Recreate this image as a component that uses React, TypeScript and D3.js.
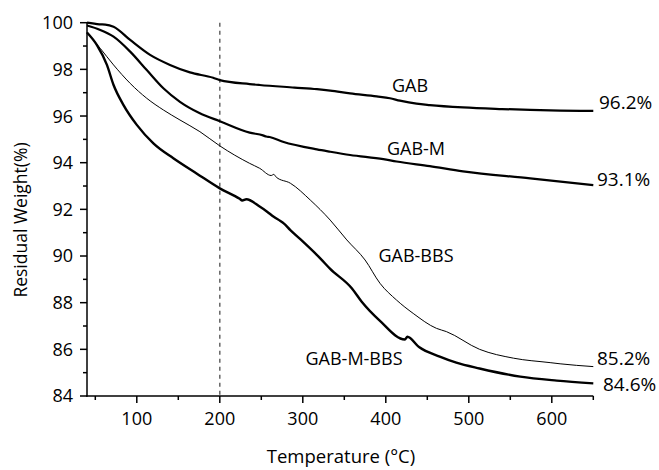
import React from "react";
import * as d3 from "d3";

const gabT = [40, 55, 62, 72, 92, 116, 140, 164, 192, 200, 236, 248, 290, 317, 333, 357, 389, 405, 417, 437, 453, 493, 540, 574, 610, 650];
const gabW = [100, 99.93, 99.92, 99.83, 99.26, 98.62, 98.19, 97.87, 97.64, 97.54, 97.37, 97.33, 97.22, 97.15, 97.09, 96.97, 96.84, 96.76, 96.66, 96.53, 96.47, 96.37, 96.3, 96.26, 96.23, 96.22];

const gabMT = [40, 56, 72, 92, 112, 132, 152, 176, 200, 236, 252, 256, 260, 276, 317, 333, 357, 397, 413, 453, 493, 574, 650];
const gabMW = [99.88, 99.69, 99.4, 98.76, 97.97, 97.19, 96.61, 96.12, 95.78, 95.29, 95.17, 95.12, 95.1, 94.9, 94.57, 94.47, 94.33, 94.15, 94.05, 93.85, 93.63, 93.33, 93.04];

const gabBBST = [40, 56, 72, 92, 112, 132, 152, 176, 200, 236, 248, 262, 265, 268, 285, 309, 333, 353, 375, 393, 413, 433, 461, 473, 513, 554, 598, 610, 650];
const gabBBSW = [99.58, 98.9, 98.19, 97.4, 96.76, 96.26, 95.83, 95.33, 94.72, 93.97, 93.76, 93.45, 93.5, 93.38, 93.12, 92.4, 91.54, 90.69, 89.83, 88.83, 88.11, 87.54, 86.9, 86.76, 86.0, 85.62, 85.43, 85.38, 85.26];

const gabMBBST = [40, 52, 64, 72, 84, 100, 120, 144, 172, 200, 224, 227, 232, 248, 257, 265, 273, 277, 285, 297, 321, 333, 359, 371, 393, 423, 426, 440, 465, 485, 513, 562, 606, 650];
const gabMBBSW = [99.58, 99.04, 98.19, 97.33, 96.47, 95.62, 94.83, 94.19, 93.54, 92.9, 92.45, 92.38, 92.43, 92.12, 91.9, 91.68, 91.5, 91.4, 91.11, 90.72, 89.9, 89.45, 88.62, 88.04, 87.22, 86.42, 86.54, 86.1, 85.69, 85.43, 85.18, 84.83, 84.66, 84.54];

const seriesNames = ["GAB", "GAB-M", "GAB-BBS", "GAB-M-BBS"];
const endLabels = ["96.2%", "93.1%", "85.2%", "84.6%"];

const xTicks = [100, 200, 300, 400, 500, 600];
const xMinor = [50, 150, 250, 350, 450, 550, 650];
const yTicks = [84, 86, 88, 90, 92, 94, 96, 98, 100];
const yMinor = [85, 87, 89, 91, 93, 95, 97, 99];

// styling / label placement (pixels)
const styles = [
  { width: 2.2, label: [410, 86], end: [599, 102] },
  { width: 2.2, label: [416, 149], end: [597, 179] },
  { width: 1, label: [416, 256], end: [597, 358] },
  { width: 2.4, label: [354, 359], end: [603, 384] },
];

const FONT = "'Open Sans', sans-serif";

export default function App() {
  const x = d3.scaleLinear().domain([40, 650]).range([87, 593.3]);
  const y = d3.scaleLinear().domain([84, 100]).range([396, 22.7]);
  const line = d3
    .line<[number, number]>()
    .x((d) => x(d[0]))
    .y((d) => y(d[1]))
    .curve(d3.curveMonotoneX);

  const data = [
    [gabT, gabW],
    [gabMT, gabMW],
    [gabBBST, gabBBSW],
    [gabMBBST, gabMBBSW],
  ];

  return (
    <svg width={659} height={470} style={{ position: "absolute", left: 0, top: 0, background: "#fff" }}>
      <line x1={x(200)} x2={x(200)} y1={y(100)} y2={y(84)} stroke="#666" strokeWidth={1.5} strokeDasharray="4,4" />
      {data.map(([t, w], k) => (
        <path
          key={seriesNames[k]}
          d={line(t.map((tt, i) => [tt, w[i]] as [number, number])) || ""}
          fill="none"
          stroke="#000"
          strokeWidth={styles[k].width}
          strokeLinejoin="round"
        />
      ))}
      <line x1={x(40)} x2={x(40)} y1={y(100)} y2={y(84) + 0.75} stroke="#000" strokeWidth={1.5} />
      <line x1={x(40) - 0.75} x2={x(650)} y1={y(84)} y2={y(84)} stroke="#000" strokeWidth={1.5} />
      {yTicks.map((v) => (
        <g key={"y" + v}>
          <line x1={x(40) - 7} x2={x(40)} y1={y(v)} y2={y(v)} stroke="#000" strokeWidth={1.5} />
          <text x={73} y={y(v)} dy="0.36em" textAnchor="end" fontFamily={FONT} fontSize={18}>
            {v}
          </text>
        </g>
      ))}
      {yMinor.map((v) => (
        <line key={"ym" + v} x1={x(40) - 4} x2={x(40)} y1={y(v)} y2={y(v)} stroke="#000" strokeWidth={1.5} />
      ))}
      {xTicks.map((v) => (
        <g key={"x" + v}>
          <line x1={x(v)} x2={x(v)} y1={y(84)} y2={y(84) + 7} stroke="#000" strokeWidth={1.5} />
          <text x={x(v)} y={419} dy="0.36em" textAnchor="middle" fontFamily={FONT} fontSize={18}>
            {v}
          </text>
        </g>
      ))}
      {xMinor.map((v) => (
        <line key={"xm" + v} x1={x(v)} x2={x(v)} y1={y(84)} y2={y(84) + 4} stroke="#000" strokeWidth={1.5} />
      ))}
      {seriesNames.map((n, k) => (
        <g key={"l" + n}>
          <text x={styles[k].label[0]} y={styles[k].label[1]} dy="0.36em" textAnchor="middle" fontFamily={FONT} fontSize={18}>
            {n}
          </text>
          <text x={styles[k].end[0]} y={styles[k].end[1]} dy="0.36em" fontFamily={FONT} fontSize={19}>
            {endLabels[k]}
          </text>
        </g>
      ))}
      <text x={341} y={463} textAnchor="middle" fontFamily={FONT} fontSize={18.5}>
        Temperature (°C)
      </text>
      <text
        transform={`translate(27,220) rotate(-90)`}
        textAnchor="middle"
        fontFamily={FONT}
        fontSize={17.5}
      >
        Residual Weight(%)
      </text>
    </svg>
  );
}
